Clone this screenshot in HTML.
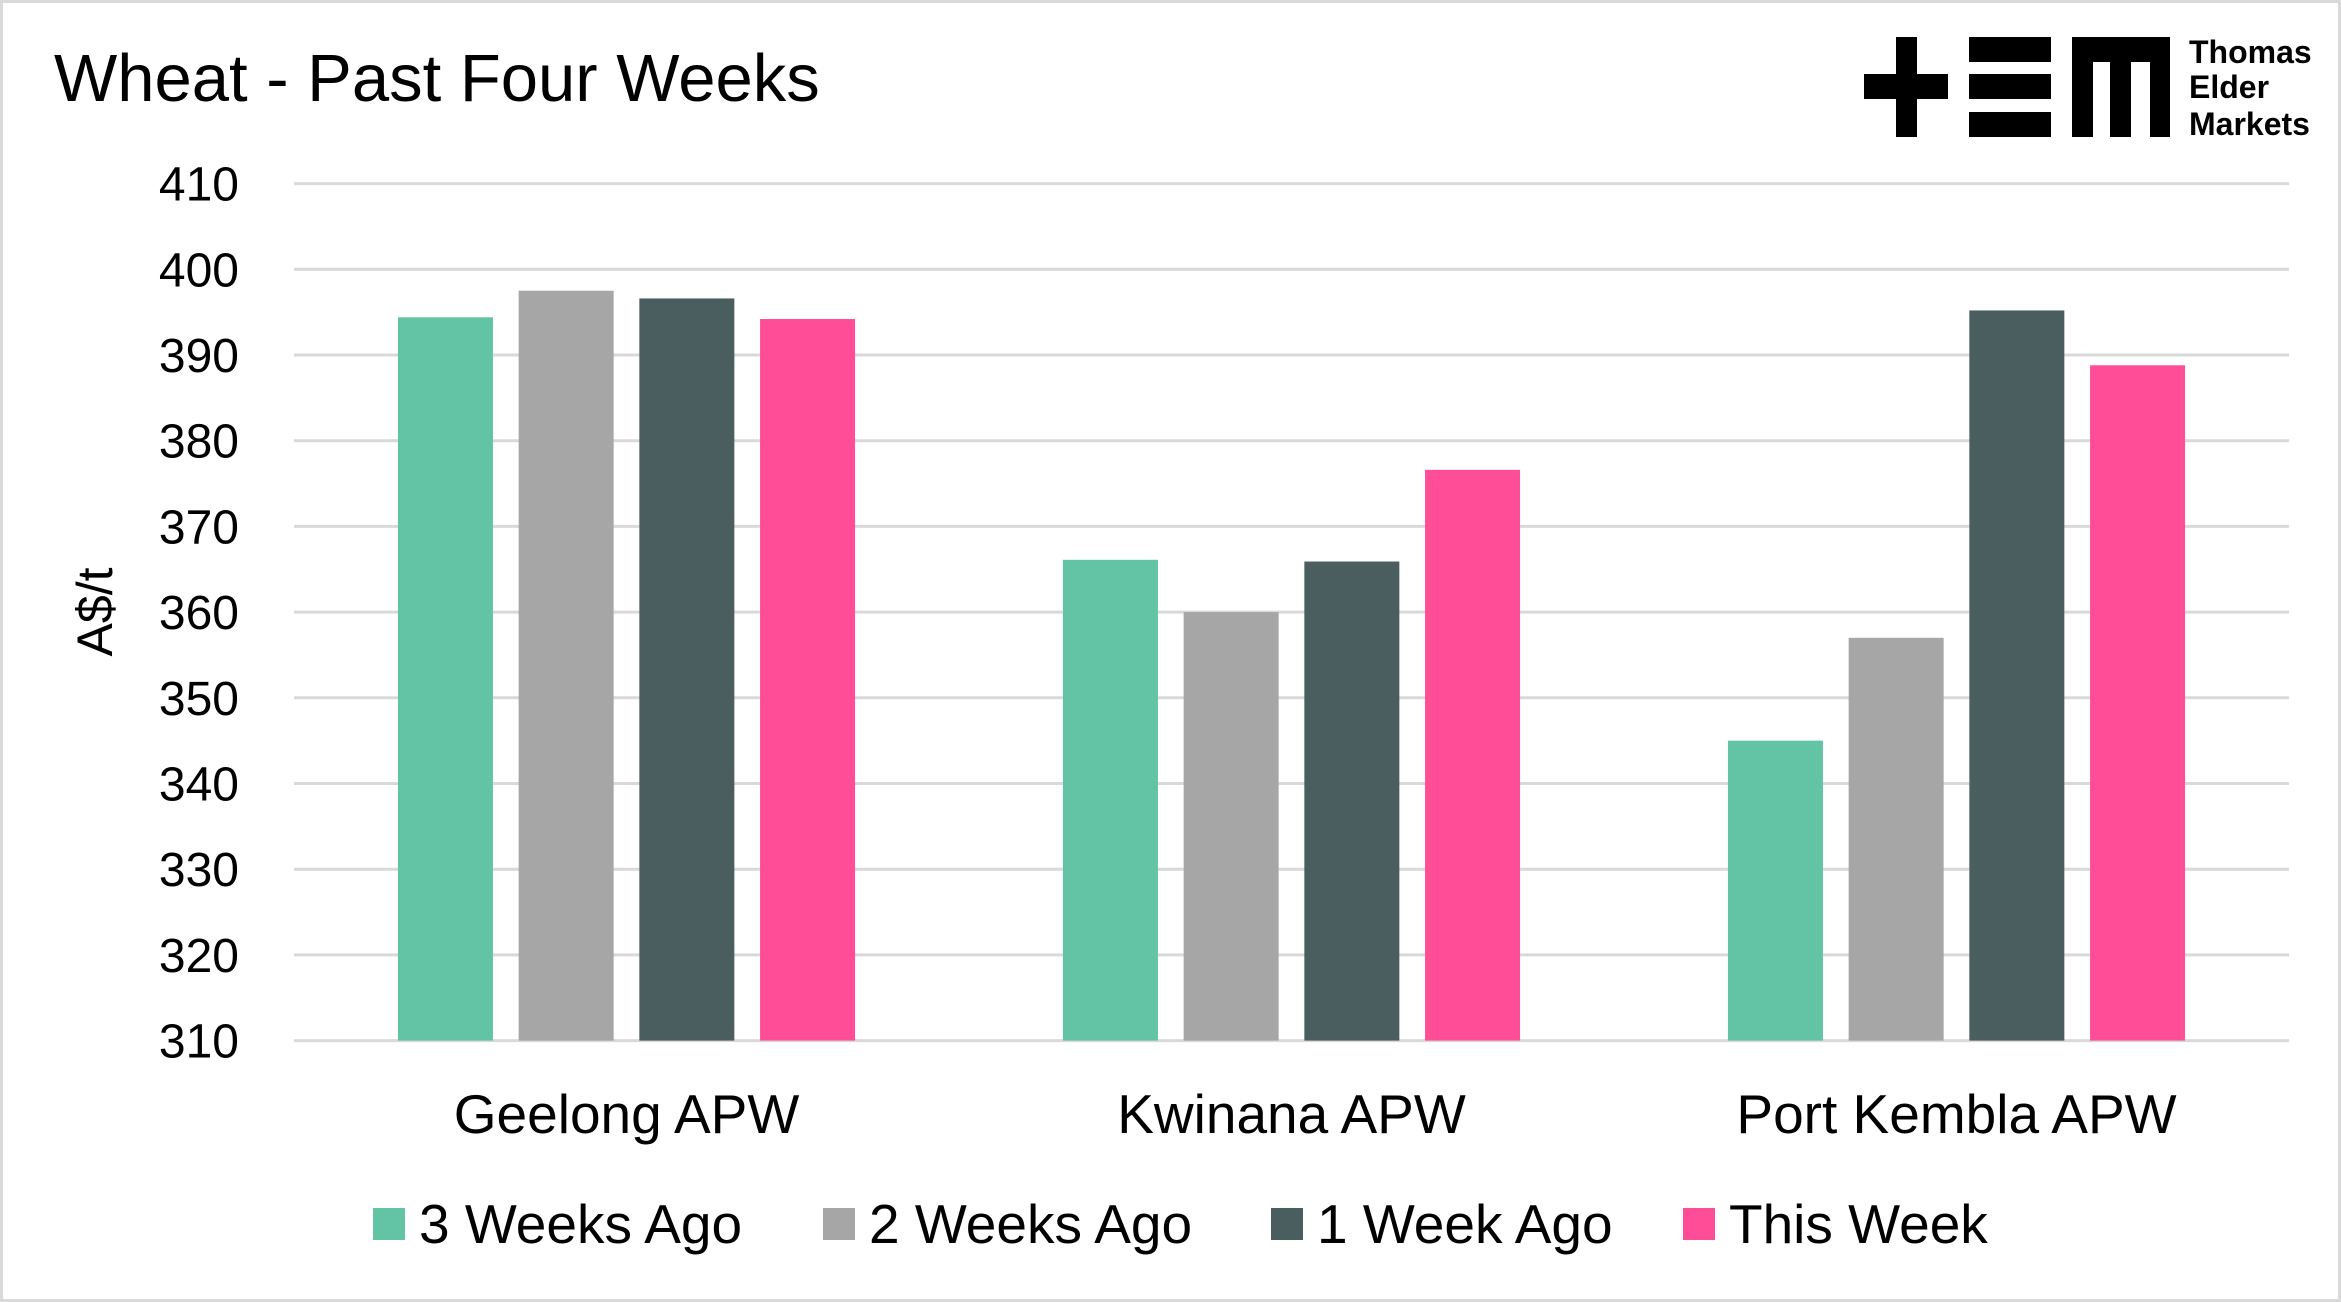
<!DOCTYPE html>
<html><head><meta charset="utf-8"><style>
html,body{margin:0;padding:0;background:#fff;}
svg{display:block;font-family:"Liberation Sans",sans-serif;}
</style></head><body>
<svg id="chart" width="2341" height="1302" viewBox="0 0 2341 1302">
<rect x="1.5" y="1.5" width="2338" height="1299" fill="#fff" stroke="#d9d9d9" stroke-width="3"/>
<text x="54" y="101" font-size="67" fill="#000">Wheat - Past Four Weeks</text>
<g>
<rect x="1864" y="74" width="84" height="25" fill="#000"/>
<rect x="1896" y="37" width="21" height="100" fill="#000"/>
<rect x="1969" y="37" width="82" height="25" fill="#000"/>
<rect x="1969" y="74" width="82" height="25" fill="#000"/>
<rect x="1969" y="112" width="82" height="25" fill="#000"/>
<rect x="2072" y="37" width="98" height="25" fill="#000"/>
<rect x="2072" y="37" width="21" height="100" fill="#000"/>
<rect x="2110" y="37" width="21" height="100" fill="#000"/>
<rect x="2150" y="37" width="20" height="100" fill="#000"/>
<text x="2189" y="63" font-size="32" font-weight="bold" fill="#000">Thomas</text>
<text x="2189" y="98" font-size="32" font-weight="bold" fill="#000">Elder</text>
<text x="2189" y="135" font-size="32" font-weight="bold" fill="#000">Markets</text>
</g>
<g id="grid"></g>
<g id="bars"></g>
<g id="labels"></g>
<text transform="translate(112,612) rotate(-90)" text-anchor="middle" font-size="50" fill="#000">A$/t</text>
<g id="legend"></g>
</svg>
<script>
const categories = ["Geelong APW","Kwinana APW","Port Kembla APW"];
const seriesNames = ["3 Weeks Ago","2 Weeks Ago","1 Week Ago","This Week"];
const seriesColors = ["#63c4a5","#a6a6a6","#4a5e60","#ff4d97"];
const s3WeeksAgo = [394.4, 366.1, 345.0];
const s2WeeksAgo = [397.5, 360.0, 357.0];
const s1WeekAgo = [396.6, 365.9, 395.2];
const sThisWeek = [394.2, 376.6, 388.8];
const yTicks = [310,320,330,340,350,360,370,380,390,400,410];

const series = [s3WeeksAgo, s2WeeksAgo, s1WeekAgo, sThisWeek];
const NS = "http://www.w3.org/2000/svg";
const plotL = 294, plotR = 2289, yMin = 310, yMax = 410, yTop = 183.6, yBot = 1040.6;
function yScale(v){ return yBot - (v - yMin) / (yMax - yMin) * (yBot - yTop); }
const catW = (plotR - plotL) / categories.length;
function catCenter(i){ return plotL + catW * (i + 0.5); }
const barW = 95, barStep = 120.7;
function mk(tag, attrs){ const e = document.createElementNS(NS, tag); for (const k in attrs) e.setAttribute(k, attrs[k]); return e; }

const grid = document.getElementById('grid');
yTicks.forEach(t => {
  const y = yScale(t);
  const l = mk('line', {x1: plotL, x2: plotR, y1: y, y2: y, stroke: '#d9d9d9', 'stroke-width': 3});
  
  
  grid.appendChild(l);
  const tx = mk('text', {x: 239, y: y + 17, 'text-anchor': 'end', 'font-size': 48, fill: '#000'});
  tx.textContent = t;
  
  
  grid.appendChild(tx);
});

const bars = document.getElementById('bars');
categories.forEach((c, i) => {
  series.forEach((s, j) => {
    const x = catCenter(i) + (j - 1.5) * barStep - barW / 2;
    const y = yScale(s[i]);
    const r = mk('rect', {x: x, y: y, width: barW, height: yBot - y, fill: seriesColors[j]});
    
    
    bars.appendChild(r);
  });
  const t = mk('text', {x: catCenter(i), y: 1133, 'text-anchor': 'middle', 'font-size': 55, fill: '#000'});
  t.textContent = c;
  
  
  document.getElementById('labels').appendChild(t);
});

const legend = document.getElementById('legend');
const legendX = [373, 823, 1271, 1683];
seriesNames.forEach((n, j) => {
  const g = mk('g', {});
  
  
  g.appendChild(mk('rect', {x: legendX[j], y: 1208, width: 32, height: 32, fill: seriesColors[j]}));
  const t = mk('text', {x: legendX[j] + 46, y: 1243, 'font-size': 55, fill: '#000'});
  t.textContent = n;
  g.appendChild(t);
  legend.appendChild(g);
});
</script>
</body></html>
